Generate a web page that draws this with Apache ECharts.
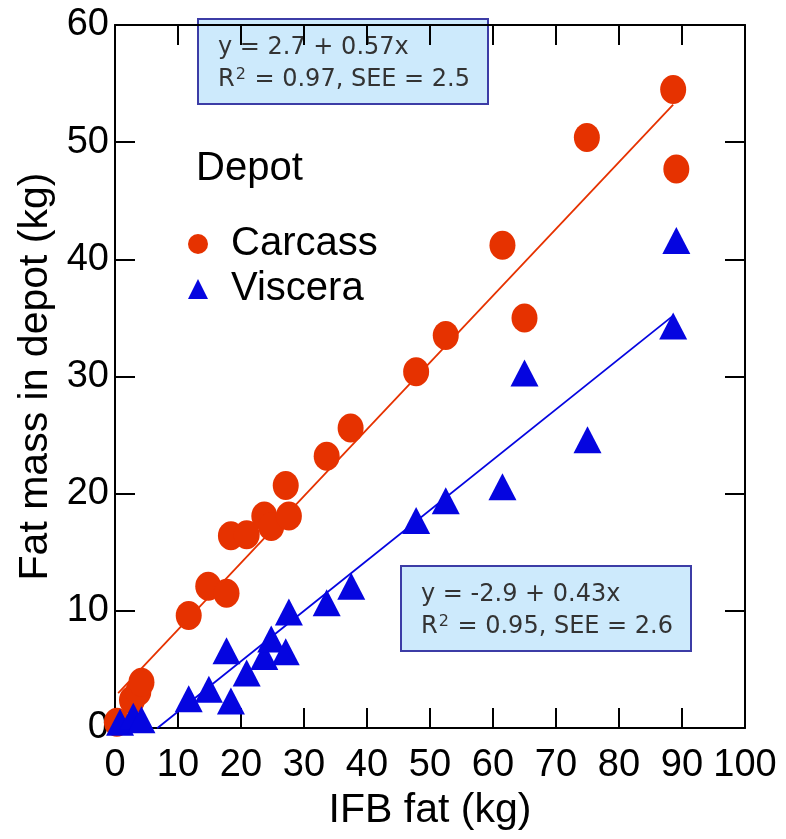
<!DOCTYPE html>
<html>
<head>
<meta charset="utf-8">
<script src="https://cdn.jsdelivr.net/npm/echarts@6/dist/echarts.min.js"></script>
<style>
  html, body { margin: 0; padding: 0; background: #fff; }
  #chart { width: 786px; height: 839px; }
</style>
</head>
<body>
<div id="chart"></div>
<script>
  // tick labels
  const xTicks = [0, 10, 20, 30, 40, 50, 60, 70, 80, 90, 100]
  const yTicks = [0, 10, 20, 30, 40, 50, 60]

  // Carcass depot (red circles)
  const carcassX = [0.3, 2.7, 3.7, 4.2, 11.7, 14.8, 17.7, 18.4, 20.9, 23.7, 24.8, 27.1, 27.6, 33.6, 37.4, 47.8, 52.5, 61.5, 65.0, 74.9, 88.6, 89.1]
  const carcassY = [0.5, 2.4, 3.1, 3.9, 9.6, 12.1, 11.5, 16.4, 16.5, 18.1, 17.2, 20.7, 18.1, 23.2, 25.6, 30.4, 33.5, 41.2, 35.0, 50.4, 54.5, 47.7]

  // Viscera depot (blue triangles)
  const visceraX = [0.8, 2.9, 4.2, 11.7, 14.9, 17.7, 18.4, 20.9, 23.7, 24.8, 27.1, 27.6, 33.6, 37.5, 47.8, 52.5, 61.5, 65.0, 75.0, 88.6, 89.1]
  const visceraY = [0.5, 1.0, 0.7, 2.5, 3.3, 6.6, 2.3, 4.7, 6.1, 7.6, 6.5, 9.9, 10.7, 12.1, 17.7, 19.4, 20.6, 30.3, 24.6, 34.3, 41.6]

  // regression fits: [intercept, slope], drawn over [xFrom, xTo]
  const carcassFit = [2.7, 0.57]
  const carcassFitRange = [0.5, 88.6]
  const visceraFit = [-2.9, 0.43]
  const visceraFitRange = [6.7, 88.6]

  const carcassText = ['y = 2.7 + 0.57x', '{t|R}{sup|2}{t| = 0.97, SEE = 2.5}']
  const visceraText = ['y = -2.9 + 0.43x', '{t|R}{sup|2}{t| = 0.95, SEE = 2.6}']

  const red = '#e63200'
  const blue = '#0505e0'
  const font = '"Liberation Sans", Arial, sans-serif'
  const boxFont = '"DejaVu Sans", sans-serif'

  function pairs(xs, ys) {
    return xs.map((x, i) => [x, ys[i]])
  }
  function fitLine(fit, range) {
    return range.map(x => [x, fit[0] + fit[1] * x])
  }

  function axisBase(extra) {
    return Object.assign({
      type: 'value',
      axisLine: { show: true, onZero: false, lineStyle: { color: '#000', width: 2 } },
      axisTick: { show: true, inside: true, length: 20, lineStyle: { color: '#000', width: 2 } },
      splitLine: { show: false }
    }, extra)
  }

  function box(x, y, lines) {
    return {
      type: 'group',
      children: [
        {
          type: 'rect',
          shape: { x: x, y: y, width: 290, height: 85 },
          style: { fill: '#cdeafc', stroke: '#3c3ca6', lineWidth: 2 }
        },
        {
          type: 'text',
          style: { x: x + 20, y: y + 29, text: lines[0], fill: '#333', fontSize: 24, fontFamily: boxFont, verticalAlign: 'middle' }
        },
        {
          type: 'text',
          style: {
            x: x + 20, y: y + 61, text: lines[1], verticalAlign: 'middle',
            rich: {
              t: { fontSize: 24, fontFamily: boxFont, fill: '#333', lineHeight: 26 },
              sup: { fontSize: 16, fontFamily: boxFont, fill: '#333', verticalAlign: 'top', lineHeight: 16, padding: [0, 1, 0, 1] }
            }
          }
        }
      ]
    }
  }

  const chart = echarts.init(document.getElementById('chart'))

  const options = {
    animation: false,
    textStyle: { fontFamily: font },
    grid: { left: 115, right: 41, top: 25, bottom: 111 },
    title: {
      text: 'Depot',
      left: 191,
      top: 144,
      textStyle: { fontSize: 40, fontWeight: 'normal', color: '#000', fontFamily: font }
    },
    legend: {
      orient: 'vertical',
      left: 183,
      top: 219,
      itemWidth: 20,
      itemHeight: 20,
      itemGap: 5,
      data: ['Carcass', 'Viscera'],
      textStyle: { fontSize: 40, color: '#000', fontFamily: font, padding: [0, 0, 0, 18] }
    },
    xAxis: [
      axisBase({
        min: xTicks[0], max: xTicks[xTicks.length - 1], interval: xTicks[1] - xTicks[0],
        name: 'IFB fat (kg)',
        nameLocation: 'middle',
        nameGap: 60,
        nameTextStyle: { fontSize: 41, color: '#000', fontFamily: font },
        axisLabel: { fontSize: 38, color: '#000', margin: 19, fontFamily: font }
      }),
      axisBase({
        position: 'top',
        min: xTicks[0], max: xTicks[xTicks.length - 1], interval: xTicks[1] - xTicks[0],
        axisLabel: { show: false }
      })
    ],
    yAxis: [
      axisBase({
        min: yTicks[0], max: yTicks[yTicks.length - 1], interval: yTicks[1] - yTicks[0],
        name: 'Fat mass in depot (kg)',
        nameLocation: 'middle',
        nameGap: 57,
        nameTextStyle: { fontSize: 41, color: '#000', fontFamily: font },
        axisLabel: { fontSize: 38, color: '#000', margin: 6, fontFamily: font }
      }),
      axisBase({
        position: 'right',
        min: yTicks[0], max: yTicks[yTicks.length - 1], interval: yTicks[1] - yTicks[0],
        axisLabel: { show: false }
      })
    ],
    series: [
      {
        name: 'Carcass fit',
        type: 'line',
        data: fitLine(carcassFit, carcassFitRange),
        showSymbol: false,
        lineStyle: { color: red, width: 1.8 },
        z: 1
      },
      {
        name: 'Viscera fit',
        type: 'line',
        data: fitLine(visceraFit, visceraFitRange),
        showSymbol: false,
        lineStyle: { color: blue, width: 1.8 },
        z: 1
      },
      {
        name: 'Carcass',
        type: 'scatter',
        symbol: 'circle',
        symbolSize: [26, 29],
        itemStyle: { color: red, opacity: 1 },
        data: pairs(carcassX, carcassY),
        z: 2
      },
      {
        name: 'Viscera',
        type: 'scatter',
        symbol: 'triangle',
        symbolSize: [28, 27],
        itemStyle: { color: blue, opacity: 1 },
        data: pairs(visceraX, visceraY),
        z: 3
      }
    ],
    graphic: [
      box(198, 19, carcassText),
      box(401, 566, visceraText)
    ]
  }

  chart.setOption(options, true)
</script>
</body>
</html>
